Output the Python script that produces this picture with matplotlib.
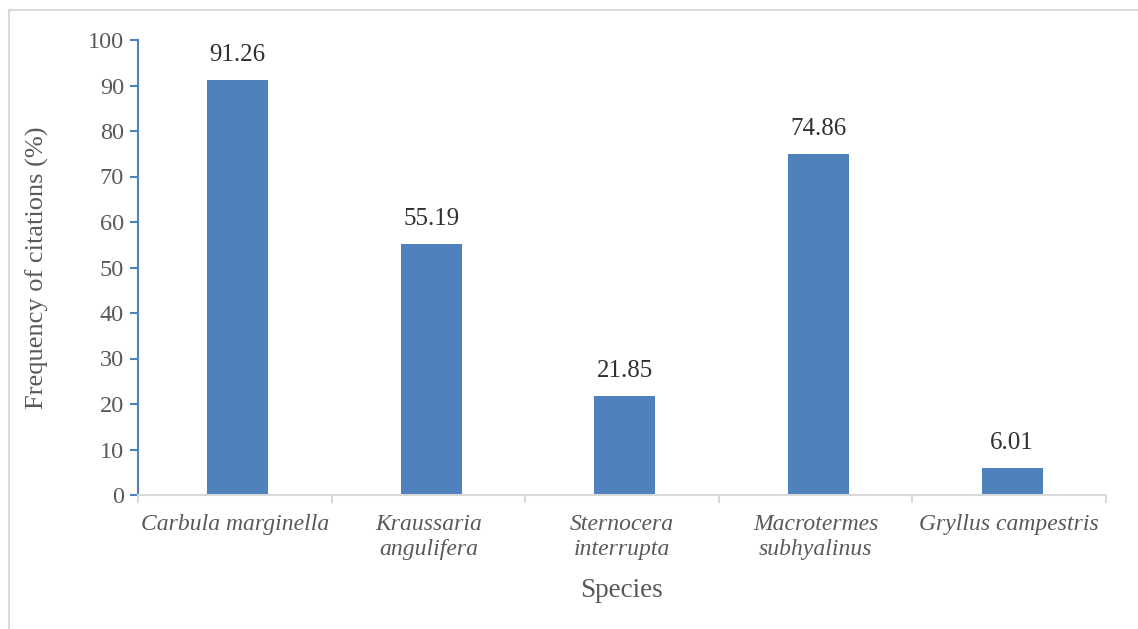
import matplotlib.pyplot as plt
from matplotlib.patches import Rectangle
import numpy as np

species = ['Carbula marginella', 'Kraussaria\nangulifera', 'Sternocera\ninterrupta',
           'Macrotermes\nsubhyalinus', 'Gryllus campestris']
frequency = [91.26, 55.19, 21.85, 74.86, 6.01]
y_ticks = list(range(0, 101, 10))

plt.rcParams['font.family'] = ['Liberation Serif', 'DejaVu Serif']

bar_color = '#4F81BD'
text_color = '#595959'

fig = plt.figure(figsize=(11.38, 6.29), dpi=100)
ax = fig.add_axes([138 / 1138, 1 - 495 / 629, 968 / 1138, 455 / 629])

# thin frame round the chart area
fig.patches.append(Rectangle((9 / 1138, -0.05), 1.1, 1 - 10 / 629 + 0.05, transform=fig.transFigure,
                             fill=False, edgecolor='#d9d9d9', linewidth=1.5))

x = np.arange(len(species))
bars = ax.bar(x + 0.015, frequency, width=0.315, color=bar_color)

for b, v in zip(bars, frequency):
    ax.annotate(f'{v:.2f}', (b.get_x() + b.get_width() / 2, v), xytext=(0, 10),
                textcoords='offset points', ha='center', va='bottom', fontsize=18, color='#303030')

ax.set_xlim(-0.5, len(species) - 0.5)
ax.set_ylim(0, 100)
ax.set_yticks(y_ticks)
ax.tick_params(axis='y', labelsize=17.5, colors=text_color, length=6, width=1.5, color=bar_color, pad=4)

ax.set_xticks(x)
ax.set_xticklabels(species, fontsize=17, style='italic', color=text_color, linespacing=1.2)
ax.tick_params(axis='x', length=0, pad=14)
ax.set_xticks(np.arange(-0.5, len(species)), minor=True)
ax.tick_params(axis='x', which='minor', length=6, width=1.5, color='#d9d9d9')

for s in ['top', 'right']:
    ax.spines[s].set_visible(False)
ax.spines['left'].set_color(bar_color)
ax.spines['left'].set_linewidth(1.5)
ax.spines['bottom'].set_color('#d9d9d9')
ax.spines['bottom'].set_linewidth(1.5)

ax.set_xlabel('Species', fontsize=19.5, color=text_color, labelpad=13)
ax.set_ylabel('Frequency of citations (%)', fontsize=19, color=text_color, labelpad=28)

fig.savefig('out.png', dpi=100)
